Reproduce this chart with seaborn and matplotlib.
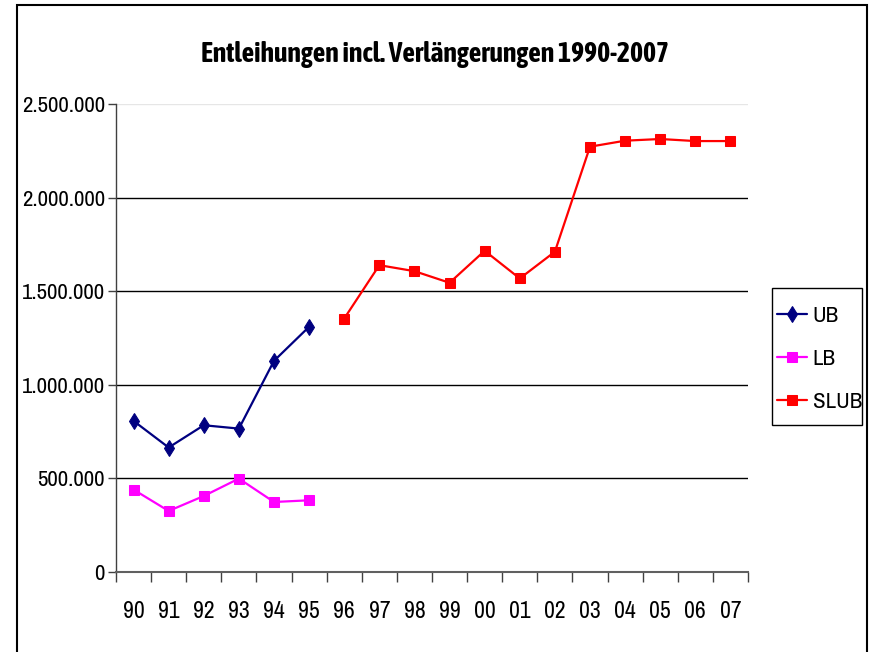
"""Entleihungen incl. Verlaengerungen 1990-2007 (Excel-style line chart)."""

import matplotlib
matplotlib.use("Agg")
import matplotlib.pyplot as plt
import matplotlib.patches as mpatches
from matplotlib.ticker import FuncFormatter, FixedLocator
import numpy as np
import pandas as pd
import seaborn as sns

# Data
years = ["90", "91", "92", "93", "94", "95", "96", "97", "98", "99",
         "00", "01", "02", "03", "04", "05", "06", "07"]
ub = [807000, 665000, 784000, 766000, 1128000, 1310000]
lb = [440000, 326000, 406000, 499000, 374000, 383000]
slub = [1354000, 1639000, 1607000, 1545000, 1716000, 1568000,
        1711000, 2272000, 2304000, 2313000, 2302000, 2302000]
y_ticks = [0, 500000, 1000000, 1500000, 2000000, 2500000]

series = {
    "UB": (years[:6], ub),
    "LB": (years[:6], lb),
    "SLUB": (years[6:], slub),
}
colors = {"UB": "#000080", "LB": "#FF00FF", "SLUB": "#FF0000"}
markers = {"UB": "d", "LB": "s", "SLUB": "s"}

rows = []
for name, (yrs, vals) in series.items():
    for y, v in zip(yrs, vals):
        rows.append({"series": name, "pos": years.index(y), "value": v})
df = pd.DataFrame(rows)

sns.set_style("white")
plt.rcParams["font.family"] = ["Archivo Narrow", "DejaVu Sans"]
plt.rcParams["font.stretch"] = "condensed"
plt.rcParams["text.color"] = "black"
plt.rcParams["xtick.labelcolor"] = "black"
plt.rcParams["ytick.labelcolor"] = "black"

fig = plt.figure(figsize=(8.69, 6.52), dpi=100)
ax = fig.add_axes([116 / 869, 1 - 572 / 652, (748 - 116) / 869, (572 - 104) / 652])

# Gridlines
for t in y_ticks[1:-1]:
    ax.axhline(t, color="black", linewidth=1.0, zorder=1)
ax.axhline(y_ticks[-1], color="#e6e6e6", linewidth=1.0, zorder=1)

for name in series:
    sub = df[df["series"] == name]
    sns.lineplot(data=sub, x="pos", y="value", ax=ax, color=colors[name],
                 marker=markers[name], markersize=8.5 if markers[name] == "d" else 7,
                 markeredgecolor=colors[name], linewidth=1.6, label=name, zorder=3)

ax.set_xlim(-0.5, len(years) - 0.5)
ax.set_ylim(0, 2500000)
ax.set_xlabel("")
ax.set_ylabel("")

# Category ticks between categories, labels centered
ax.xaxis.set_major_locator(FixedLocator(np.arange(-0.5, len(years), 1.0)))
ax.xaxis.set_major_formatter(FuncFormatter(lambda v, p: ""))
ax.set_xticks(np.arange(len(years)), labels=years, minor=True)
ax.tick_params(axis="x", which="major", direction="out", length=7, width=1,
               color="#404040", bottom=True)
ax.tick_params(axis="x", which="minor", length=0, pad=21, labelsize=17,
               labelcolor="black")

ax.set_yticks(y_ticks)
ax.yaxis.set_major_formatter(FuncFormatter(lambda v, p: f"{int(v):,}".replace(",", ".")))
ax.tick_params(axis="y", direction="out", length=6, width=1, color="#404040",
               left=True, labelsize=16.5, pad=2, labelcolor="black")

for s in ["top", "right"]:
    ax.spines[s].set_visible(False)
ax.spines["left"].set_color("#404040")
ax.spines["bottom"].set_color("#606060")
ax.spines["left"].set_linewidth(1.0)
ax.spines["bottom"].set_linewidth(1.5)

# Legend: entries without frame, plus a drawn box like the Excel one
ax.get_legend().remove()
handles, labels = ax.get_legend_handles_labels()
leg = fig.legend(handles, labels, loc="center left",
                 bbox_to_anchor=(777 / 869, 1 - 359 / 652),
                 frameon=False, fontsize=16.5,
                 handlelength=1.3, handletextpad=0.25, labelspacing=1.0,
                 borderpad=0, borderaxespad=0)
for t in leg.get_texts():
    t.set_color("black")
leg_box = mpatches.Rectangle((772 / 869, 1 - 425 / 652), 90 / 869, 137 / 652,
                             transform=fig.transFigure, fill=False,
                             edgecolor="black", linewidth=1.0)
fig.patches.append(leg_box)

fig.text(0.5, 1 - 55 / 652, "Entleihungen incl. Verlängerungen 1990-2007",
         ha="center", va="center", fontsize=20, fontweight="bold", color="black",
         family=["Asap Condensed", "DejaVu Sans"])

# Outer chart border
border = mpatches.Rectangle((17 / 869, -0.05), (867 - 17) / 869, 1.05 - 5 / 652,
                            transform=fig.transFigure, fill=False,
                            edgecolor="black", linewidth=1.5, clip_on=False)
fig.patches.append(border)

fig.savefig("out.png", dpi=100)
